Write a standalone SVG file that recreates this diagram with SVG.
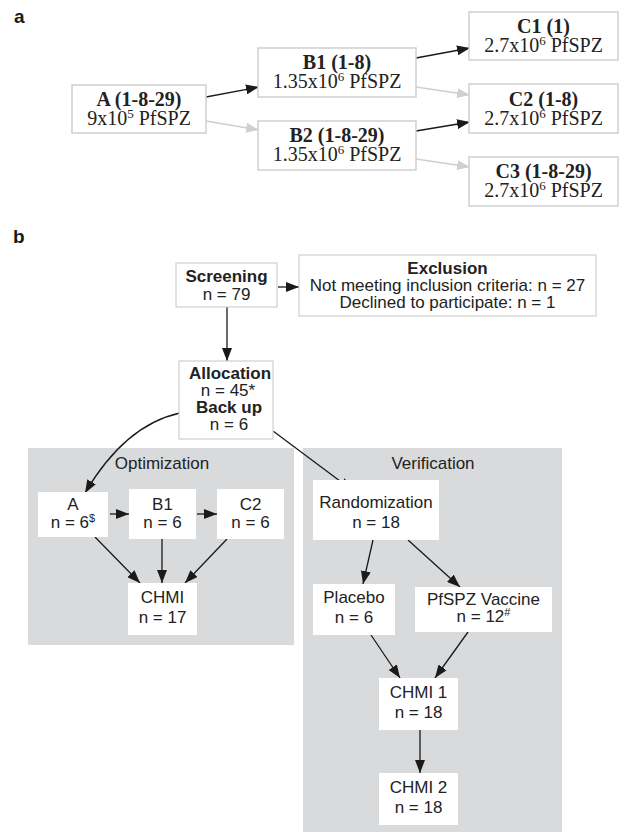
<svg xmlns="http://www.w3.org/2000/svg" width="620" height="832" viewBox="0 0 620 832">
<defs>
<marker id="ab" markerUnits="userSpaceOnUse" markerWidth="14" markerHeight="10" refX="13" refY="5" orient="auto"><path d="M0,0 L13,5 L0,10 Z" fill="#1a1a1a"/></marker>
<marker id="ag" markerUnits="userSpaceOnUse" markerWidth="14" markerHeight="10" refX="13" refY="5" orient="auto"><path d="M0,0 L13,5 L0,10 Z" fill="#cfcfcf"/></marker>
<style>
.lab{font-family:"Liberation Sans",Arial,sans-serif;font-weight:bold;font-size:19px;fill:#1a1a1a}
.ser{font-family:"Liberation Serif","Times New Roman",serif;font-size:20px;fill:#222;text-anchor:middle}
.san{font-family:"Liberation Sans",Arial,sans-serif;font-size:17px;fill:#222;text-anchor:middle}
.b{font-weight:bold}
.abox{fill:#fff;stroke:#d0d0d0;stroke-width:1.5}
.bbox{fill:#fff;stroke:#cfcfcf;stroke-width:1.2}
.wbox{fill:#fff}
.panel{fill:#d9dadc}
.eb{stroke:#1a1a1a;stroke-width:1.3;fill:none;marker-end:url(#ab)}
.eg{stroke:#cfcfcf;stroke-width:1.3;fill:none;marker-end:url(#ag)}
</style>
</defs>
<rect width="620" height="832" fill="#fff"/>
<text class="lab" x="14" y="23">a</text>
<text class="lab" x="13" y="243">b</text>

<g id="clusters">
<rect id="optimization" class="panel" x="28" y="448" width="266" height="197"/>
<text class="san" x="162" y="469">Optimization</text>
<rect id="verification" class="panel" x="303" y="448" width="259" height="384"/>
<text class="san" x="433" y="469">Verification</text>
</g>

<g id="connectors">
<line class="eb" x1="206" y1="97" x2="259" y2="87"/>
<line class="eg" x1="206" y1="121" x2="259" y2="130"/>
<line class="eb" x1="416" y1="58" x2="470" y2="48"/>
<line class="eg" x1="416" y1="87" x2="470" y2="95"/>
<line class="eb" x1="416" y1="131" x2="470" y2="122"/>
<line class="eg" x1="416" y1="159" x2="470" y2="167"/>

<line class="eb" x1="278" y1="287" x2="299" y2="287"/>
<line class="eb" x1="227" y1="307" x2="227" y2="361"/>
<path class="eb" d="M180,413 Q125,425 85,493"/>
<line class="eb" x1="273" y1="431" x2="352" y2="490"/>
<line class="eb" x1="110" y1="514" x2="129" y2="514"/>
<line class="eb" x1="197" y1="514" x2="217" y2="514"/>
<line class="eb" x1="95" y1="537" x2="140" y2="583"/>
<line class="eb" x1="162" y1="539" x2="162" y2="583"/>
<line class="eb" x1="227" y1="539" x2="185" y2="583"/>
<line class="eb" x1="373" y1="540" x2="363" y2="584"/>
<line class="eb" x1="408" y1="540" x2="460" y2="587"/>
<line class="eb" x1="371" y1="635" x2="400" y2="678"/>
<line class="eb" x1="468" y1="632" x2="435" y2="678"/>
<line class="eb" x1="420" y1="730" x2="420" y2="773"/>
</g>

<g id="nA"><rect class="abox" x="72" y="85" width="134" height="48"/>
<text class="ser b" x="139" y="106">A (1-8-29)</text>
<text class="ser" x="139" y="125">9x10<tspan dy="-7" font-size="13">5</tspan><tspan dy="7"> PfSPZ</tspan></text></g>
<g id="nB1"><rect class="abox" x="258" y="48" width="158" height="49"/>
<text class="ser b" x="337" y="69">B1 (1-8)</text>
<text class="ser" x="337" y="88">1.35x10<tspan dy="-7" font-size="13">6</tspan><tspan dy="7"> PfSPZ</tspan></text></g>
<g id="nB2"><rect class="abox" x="258" y="121" width="158" height="49"/>
<text class="ser b" x="337" y="142">B2 (1-8-29)</text>
<text class="ser" x="337" y="161">1.35x10<tspan dy="-7" font-size="13">6</tspan><tspan dy="7"> PfSPZ</tspan></text></g>
<g id="nC1"><rect class="abox" x="469" y="12" width="149" height="48"/>
<text class="ser b" x="543.5" y="33">C1 (1)</text>
<text class="ser" x="543.5" y="52">2.7x10<tspan dy="-7" font-size="13">6</tspan><tspan dy="7"> PfSPZ</tspan></text></g>
<g id="nC2"><rect class="abox" x="469" y="84" width="149" height="49"/>
<text class="ser b" x="543.5" y="106">C2 (1-8)</text>
<text class="ser" x="543.5" y="125">2.7x10<tspan dy="-7" font-size="13">6</tspan><tspan dy="7"> PfSPZ</tspan></text></g>
<g id="nC3"><rect class="abox" x="469" y="157" width="149" height="49"/>
<text class="ser b" x="543.5" y="178">C3 (1-8-29)</text>
<text class="ser" x="543.5" y="197">2.7x10<tspan dy="-7" font-size="13">6</tspan><tspan dy="7"> PfSPZ</tspan></text></g>

<g id="screening"><rect class="bbox" x="176" y="263" width="101" height="44"/>
<text class="san b" x="226.5" y="282">Screening</text>
<text class="san" x="226.5" y="300">n = 79</text></g>
<g id="exclusion"><rect class="bbox" x="299" y="255" width="297" height="61"/>
<text class="san b" x="447.5" y="274">Exclusion</text>
<text class="san" x="447.5" y="291">Not meeting inclusion criteria: n = 27</text>
<text class="san" x="447.5" y="308">Declined to participate: n = 1</text></g>
<g id="allocation"><rect class="bbox" x="179" y="361" width="94" height="78"/>
<text class="san b" x="230" y="379">Allocation</text>
<text class="san" x="228" y="396">n = 45*</text>
<text class="san b" x="229" y="413">Back up</text>
<text class="san" x="229" y="430">n = 6</text></g>

<g id="oA"><rect class="wbox" x="38" y="492" width="70" height="45"/>
<text class="san" x="73" y="510">A</text>
<text class="san" x="73" y="528">n = 6<tspan dy="-6" font-size="11">$</tspan></text></g>
<g id="oB1"><rect class="wbox" x="129" y="489" width="67" height="50"/>
<text class="san" x="162.5" y="510">B1</text>
<text class="san" x="162.5" y="528">n = 6</text></g>
<g id="oC2"><rect class="wbox" x="217" y="489" width="67" height="50"/>
<text class="san" x="250.5" y="510">C2</text>
<text class="san" x="250.5" y="528">n = 6</text></g>
<g id="oCHMI"><rect class="wbox" x="128" y="583" width="69" height="52"/>
<text class="san" x="162.5" y="603">CHMI</text>
<text class="san" x="162.5" y="623">n = 17</text></g>

<g id="vRand"><rect class="wbox" x="313" y="480" width="126" height="60"/>
<text class="san" x="376" y="508">Randomization</text>
<text class="san" x="376" y="528">n = 18</text></g>
<g id="vPlacebo"><rect class="wbox" x="313" y="584" width="82" height="51"/>
<text class="san" x="354" y="603">Placebo</text>
<text class="san" x="354" y="623">n = 6</text></g>
<g id="vPfSPZ"><rect class="wbox" x="415" y="587" width="137" height="45"/>
<text class="san" x="483.5" y="605">PfSPZ Vaccine</text>
<text class="san" x="483.5" y="622">n = 12<tspan dy="-6" font-size="11">#</tspan></text></g>
<g id="vCHMI1"><rect class="wbox" x="379" y="678" width="79" height="52"/>
<text class="san" x="418.5" y="698">CHMI 1</text>
<text class="san" x="418.5" y="718">n = 18</text></g>
<g id="vCHMI2"><rect class="wbox" x="379" y="773" width="79" height="52"/>
<text class="san" x="418.5" y="793">CHMI 2</text>
<text class="san" x="418.5" y="813">n = 18</text></g>
</svg>
